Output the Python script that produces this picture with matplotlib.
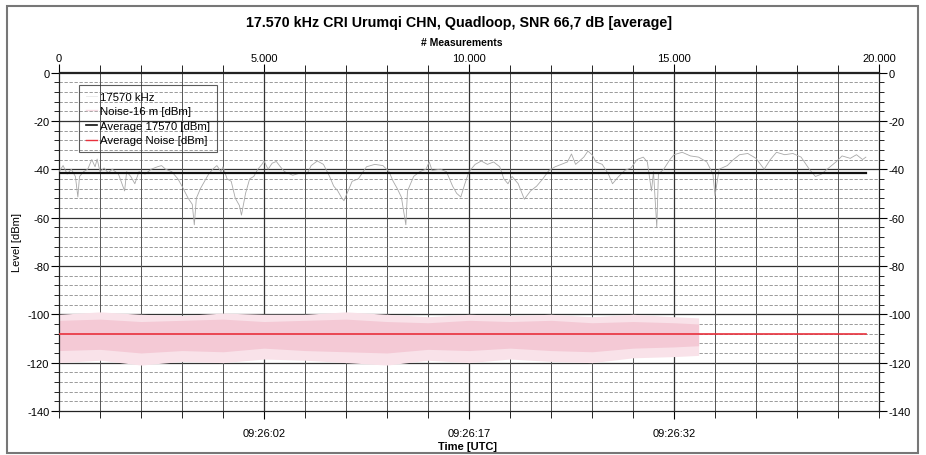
import matplotlib
matplotlib.use("Agg")
import matplotlib.pyplot as plt
from matplotlib.lines import Line2D
from matplotlib.patches import Rectangle
from matplotlib.ticker import MultipleLocator, FixedLocator

plt.rcParams["font.family"] = ["Liberation Sans", "DejaVu Sans"]
plt.rcParams["axes.unicode_minus"] = False

# Daten
title = "17.570 kHz CRI Urumqi CHN, Quadloop, SNR 66,7 dB [average]"
top_ticks = [0, 5000, 10000, 15000, 20000]
top_labels = ["0", "5.000", "10.000", "15.000", "20.000"]
time_ticks = [5000, 10000, 15000]
time_labels = ["09:26:02", "09:26:17", "09:26:32"]

sig_m = [0, 100, 200, 300, 400, 460, 500, 600, 700, 800, 880, 930, 1000, 1100, 1200,
         1300, 1450, 1600, 1650, 1750, 1850, 1950, 2100, 2250, 2400, 2500, 2600, 2750,
         2900, 3000, 3150, 3250, 3300, 3350, 3450, 3550, 3650, 3750, 3850, 3950, 4000,
         4100, 4200, 4300, 4400, 4450, 4550, 4650, 4750, 4850, 4950, 5000, 5100, 5200,
         5300, 5400, 5500, 5700, 5900, 6050, 6150, 6300, 6450, 6600, 6700, 6800, 6900,
         6950, 7050, 7150, 7300, 7500, 7700, 7900, 8050, 8150, 8250, 8350, 8460, 8500,
         8650, 8800, 8950, 9030, 9100, 9300, 9450, 9600, 9700, 9800, 9900, 10000, 10150,
         10300, 10450, 10600, 10750, 10850, 10950, 11050, 11200, 11350, 11500, 11650,
         11800, 11950, 12100, 12250, 12400, 12500, 12600, 12800, 12900, 13000, 13100,
         13250, 13400, 13500, 13650, 13800, 13950, 14100, 14250, 14350, 14450, 14500,
         14580, 14620, 14750, 14900, 15000, 15200, 15400, 15600, 15800, 15950, 16000,
         16100, 16300, 16450, 16600, 16800, 17000, 17200, 17350, 17500, 17700, 17900,
         18100, 18300, 18450, 18600, 18700, 18950, 19100, 19300, 19450, 19600, 19680]
sig_db = [-41, -38.5, -42, -40, -43, -51.5, -43, -41, -40, -36, -39, -35.8, -41, -39.5, -41.5,
          -40, -42, -49, -41, -43, -46, -41, -42, -40, -39, -38.5, -40, -41,
          -44, -47, -52, -54.5, -63, -52, -48, -45, -42, -40, -38.5, -41, -39,
          -44, -45, -52, -55, -59, -50, -44, -43, -40, -38, -36.6, -40, -37.5,
          -36.8, -39, -41, -42.5, -41.5, -42, -38.5, -36.6, -38, -43, -47, -49, -52,
          -53, -49, -45, -44, -39, -38, -38.5, -41, -45, -48, -51.5, -63, -49,
          -43, -41, -40, -37, -40.5, -40, -41, -47, -50, -51.5, -46, -41, -38,
          -36.6, -38, -37, -39, -44, -46, -43, -46, -52.4, -49, -47,
          -44, -40.5, -39, -38, -37, -33.7, -38, -35, -32.5, -34, -37,
          -38, -42, -46, -43, -40.5, -39.5, -36, -35, -37, -49, -41,
          -64, -42, -40, -36, -34, -33, -34.5, -35, -37, -42, -51,
          -40, -38.5, -36, -34, -33.5, -35.5, -40, -36, -33, -34, -33.5,
          -35, -40, -43, -42, -40.5, -37, -34.5, -35.5, -34, -36, -35]

noise_m = [0, 1000, 2000, 3000, 4000, 5000, 6000, 7000, 8000, 9000, 10000, 11000,
           12000, 13000, 14000, 15000, 15600]
noise_hi_outer = [-100, -99, -100, -100.5, -99.5, -100, -100, -99, -100, -101, -100,
                  -100.5, -100, -101, -100, -101, -101.5]
noise_lo_outer = [-120, -119, -121, -119.5, -120, -118.5, -119, -120, -121, -119, -120,
                  -118.5, -119.5, -120, -118, -117.5, -117]
noise_hi_inner = [-102.5, -102, -103, -102.5, -102, -103, -102.5, -102, -103, -103.5, -102.5,
                  -103, -102.5, -103.5, -103, -103.5, -104]
noise_lo_inner = [-115, -114.5, -116, -115, -115.5, -114, -115, -115.5, -116, -114.5, -115,
                  -114, -115, -115.5, -114, -113.5, -113]

avg_end = 19680
avg_signal = -41.6
avg_noise = -108.3

W, H = 926, 456
fig = plt.figure(figsize=(W / 100, H / 100), dpi=100)
fig.patches.append(Rectangle((7 / W, 2 / H), 911 / W, 447 / H, transform=fig.transFigure,
                             fill=False, edgecolor="#777777", linewidth=1.5))

ax = fig.add_axes([59 / W, 1 - 412 / H, 820 / W, 338.5 / H])
ax.set_xlim(0, 20000)
ax.set_ylim(-140, 0)

# Gitter
for y in range(-136, 0, 4):
    if y % 20:
        ax.axhline(y, color="#8a8a8a", lw=0.6, ls=(0, (4, 2)), zorder=1)
for y in range(-120, 0, 20):
    ax.axhline(y, color="#333333", lw=0.9, zorder=1)
for x in range(1000, 20000, 1000):
    ax.axvline(x, color="#333333" if x % 5000 == 0 else "#555555",
               lw=0.9 if x % 5000 == 0 else 0.7, zorder=1)

# Rauschen
ax.fill_between(noise_m, noise_lo_outer, noise_hi_outer, color="#f9e2e9", lw=0, zorder=2)
ax.fill_between(noise_m, noise_lo_inner, noise_hi_inner, color="#f4c9d5", lw=0, zorder=2)
ax.plot([0, avg_end], [avg_noise, avg_noise], color="#e8303c", lw=1.2, zorder=4)

# Signal
ax.plot(sig_m, sig_db, color="#a8a8a8", lw=0.6, zorder=3)
ax.plot([0, avg_end], [avg_signal, avg_signal], color="#111111", lw=1.6, zorder=4)

# Achsen
ax.yaxis.set_major_locator(MultipleLocator(20))
ax.yaxis.set_minor_locator(MultipleLocator(4))
ax.tick_params(axis="y", which="both", left=True, right=True, labelleft=True,
               labelright=True, direction="out", labelsize=8, pad=1)
ax.tick_params(axis="y", which="major", length=6)
ax.tick_params(axis="y", which="minor", length=3.5)

ax.xaxis.set_major_locator(FixedLocator(time_ticks))
ax.xaxis.set_minor_locator(MultipleLocator(1000))
ax.set_xticklabels(time_labels)
ax.tick_params(axis="x", which="both", direction="out", labelsize=8, pad=6)
ax.tick_params(axis="x", which="major", length=6)
ax.tick_params(axis="x", which="minor", length=5)

top = ax.secondary_xaxis("top")
top.xaxis.set_major_locator(FixedLocator(top_ticks))
top.xaxis.set_minor_locator(MultipleLocator(1000))
top.set_xticklabels(top_labels)
top.tick_params(axis="x", which="both", direction="out", labelsize=8, pad=0.5)
top.tick_params(axis="x", which="major", length=6)
top.tick_params(axis="x", which="minor", length=5)

for sp in list(ax.spines.values()) + list(top.spines.values()):
    sp.set_color("#222222")
    sp.set_linewidth(0.9)

fig.text(459 / W, 1 - 23 / H, title, ha="center", va="center", fontsize=10.3, fontweight="bold")
fig.text(462 / W, 1 - 43 / H, "# Measurements", ha="center", va="center", fontsize=7.5,
         fontweight="bold")
fig.text(468 / W, 1 - 447 / H, "Time [UTC]", ha="center", va="center", fontsize=8,
         fontweight="bold")
fig.text(17 / W, 1 - 243 / H, "Level [dBm]", ha="center", va="center", fontsize=8,
         rotation=90)

handles = [Line2D([], [], color="#e6e6e6", lw=0.6),
           Line2D([], [], color="#f6dbe3", lw=1.0),
           Line2D([], [], color="#111111", lw=1.2),
           Line2D([], [], color="#e8303c", lw=1.0)]
labels = ["17570 kHz", "Noise-16 m [dBm]", "Average 17570 [dBm]", "Average Noise [dBm]"]
leg = ax.legend(handles, labels, loc="upper left", bbox_to_anchor=(79 / W, 1 - 86 / H),
                bbox_transform=fig.transFigure, prop={"size": 8.2}, frameon=True,
                fancybox=False, handlelength=0.95, handletextpad=0.3, borderpad=0.6,
                labelspacing=0.4, borderaxespad=0)
leg.get_frame().set_facecolor("none")
leg.get_frame().set_edgecolor("#333333")
leg.get_frame().set_linewidth(0.8)
leg.set_zorder(5)

fig.savefig("out.png", dpi=100)
